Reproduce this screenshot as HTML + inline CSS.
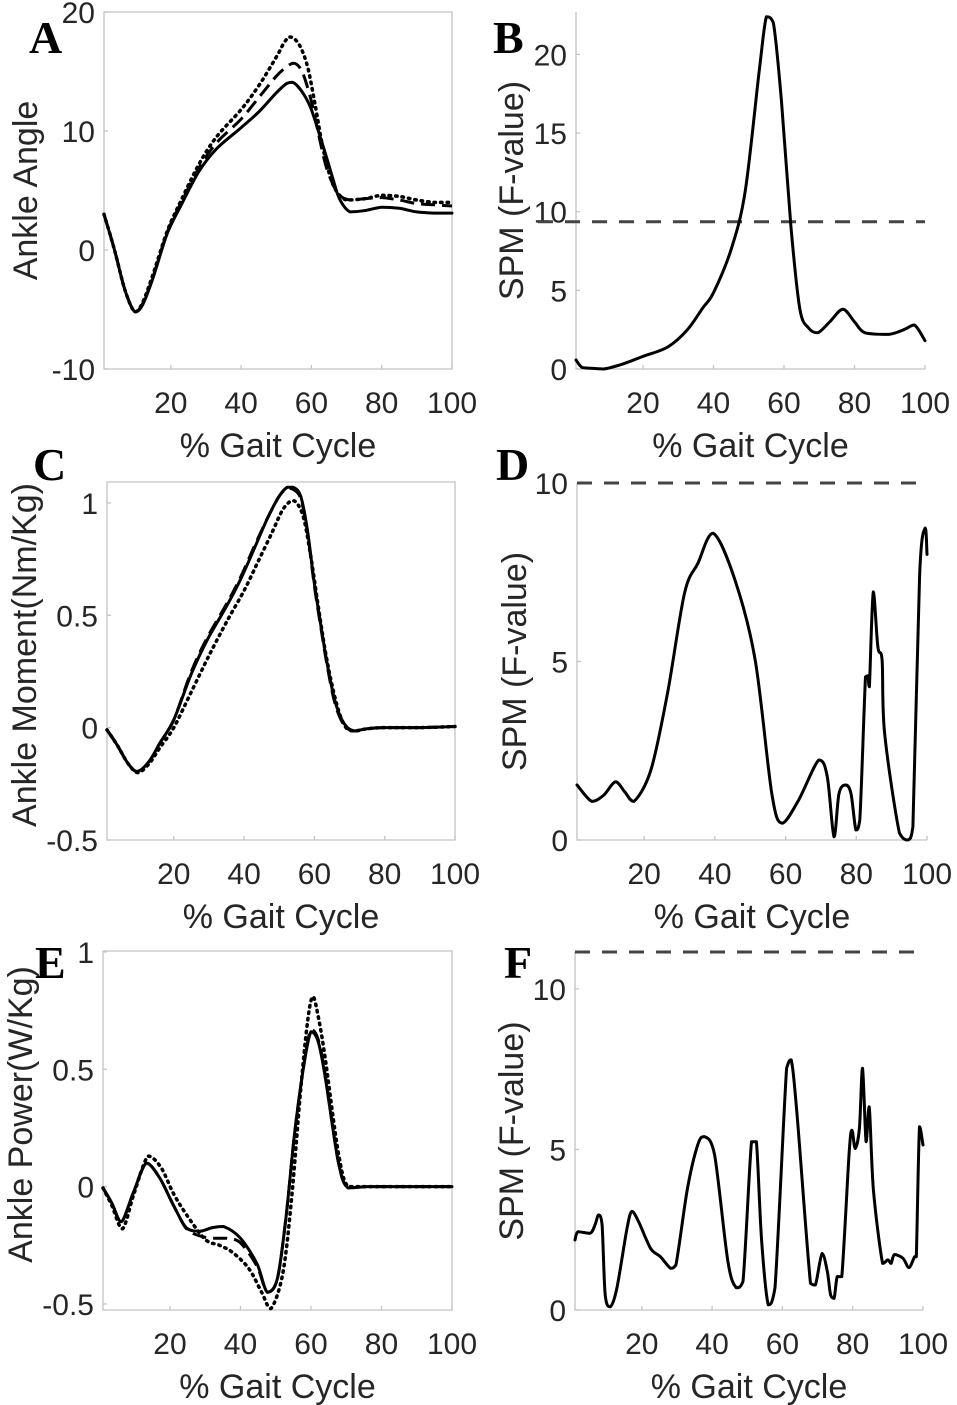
<!DOCTYPE html>
<html><head><meta charset="utf-8">
<style>
html,body{margin:0;padding:0;background:#fff;}
svg{display:block;}
.tick{font-family:"Liberation Sans",sans-serif;font-size:30px;fill:#262626;}
.title{font-family:"Liberation Sans",sans-serif;font-size:34px;fill:#262626;}
.letter{font-family:"Liberation Serif",serif;font-weight:bold;font-size:46px;fill:#000;}
</style></head>
<body>
<svg id="fig" width="957" height="1405" viewBox="0 0 957 1405" xmlns="http://www.w3.org/2000/svg"></svg>
<script>
// Panel A: ankle angle
const aSolidX=[1,4,7,9.8,12,15,19,23,28,33,39.7,45,50,53,54.5,56,58,60,62.5,64.5,66,68,71,75,80,85,90,95,100];
const aSolidY=[3,0,-3.4,-5.2,-4.6,-2.3,1.4,3.8,6.6,8.5,10.2,11.6,13.2,14,14.1,13.8,13,11.8,9.5,7.6,6.1,4.3,3.2,3.3,3.6,3.5,3.2,3.1,3.1];
const aDashX=[1,4,7,9.8,12,15,19,23,28,33,40,45,50,53,54.9,56.5,58,60,62,64,66,68,71,75,80,85,90,95,100];
const aDashY=[3,0,-3.4,-5.2,-4.5,-2.2,1.5,4,6.9,9,11,12.8,14.6,15.4,15.7,15.4,14.5,12.5,9.8,7.2,5.6,4.6,4.2,4.3,4.4,4.2,3.9,3.8,3.7];
const aDotX=[1,4,7,9.8,12,15,19,23,28,33,40,45,50,52,53.6,55,57,59,61,63,65,67,70,75,80,85,90,95,100];
const aDotY=[3,0,-3.4,-5.2,-4.4,-2,1.6,4.2,7.2,9.5,11.8,13.8,16.2,17.3,17.9,17.8,17,15.3,12.3,9,6.5,5,4.2,4.3,4.6,4.5,4.2,4,4];
// Panel B: SPM angle
const bX=[1,2.7,5,8.8,14,20,27,32.6,37,40,45,49,53,55,57,59.3,62,64.5,67,69.6,73,76.7,80,83,89.6,94,97,100];
const bY=[0.57,0.1,0.05,0,0.3,0.8,1.4,2.5,3.9,4.85,7.6,11.3,19,22.4,22,17,9,3.8,2.6,2.3,3,3.8,3,2.3,2.2,2.5,2.8,1.8];
const bThresh=9.36;
// Panel C: ankle moment
const cSolidX=[1,4,7,9.6,13,16,20,25,29.5,35,39,43,46.6,50,52.3,54,56.1,58,60,62,63.8,66,68.5,71.3,75,80,90,100];
const cSolidY=[-0.01,-0.08,-0.16,-0.195,-0.15,-0.07,0.035,0.24,0.39,0.54,0.66,0.8,0.93,1.03,1.07,1.07,1.03,0.88,0.64,0.44,0.27,0.11,0.017,-0.015,-0.005,0,0,0.005];
const cDashX=[1,4,7,9.6,13,16,20,25,29.5,35,39,43,46.6,50,52.3,54,56.1,58,60,62,63.8,66,68.5,71.3,75,80,90,100];
const cDashY=[-0.01,-0.08,-0.16,-0.195,-0.15,-0.07,0.035,0.25,0.4,0.55,0.67,0.81,0.93,1.03,1.065,1.06,1.02,0.87,0.63,0.43,0.26,0.1,0.01,-0.015,-0.005,0,0,0.005];
const cDotX=[1,4,7,9.8,13,16,20,25,30,35,40,44,48,51,53.5,55,57,59,61,63,65,67,69,71.5,75,80,90,100];
const cDotY=[-0.01,-0.08,-0.16,-0.2,-0.16,-0.09,0.0,0.16,0.32,0.47,0.61,0.74,0.87,0.97,1.01,1.0,0.93,0.76,0.55,0.35,0.19,0.07,0.0,-0.015,-0.005,0,0,0.005];
// Panel D: SPM moment
const dX=[1,5.2,8.5,11.9,14.5,17.1,21.9,26.6,31.4,35.2,39.5,45.7,51.4,56.1,59,63.7,69.4,71.8,73.7,75.1,77,78.5,79.9,81,82.6,83.3,83.7,84.8,86.1,87.3,88,92.2,94.6,96,97.9,99.5,100];
const dY=[1.54,1.08,1.25,1.63,1.35,1.08,1.96,4.11,6.91,7.75,8.59,7.28,5.04,1.3,0.47,1.12,2.24,1.77,0.09,1.3,1.54,1.3,0.28,0.56,4.57,4.6,4.29,6.95,5.41,5.04,3.0,0.2,0,0.37,7.4,8.74,8.0];
const dThresh=10;
// Panel E: ankle power
const eSolidX=[1,3.5,6.2,9.5,13.3,17.1,21,24.7,28.5,32,35.2,40,44.7,47.6,50.5,53,55.3,58,60,62,63.9,67.7,70.5,76.2,85,100];
const eSolidY=[-0.006,-0.07,-0.15,-0.03,0.1,0.036,-0.08,-0.177,-0.19,-0.175,-0.17,-0.22,-0.33,-0.45,-0.39,-0.12,0.22,0.52,0.66,0.62,0.48,0.11,-0.006,0,0,0];
const eDashX=[1,3.5,6.2,9.5,13.3,17.1,21,24.7,28.5,32,36,40,44.7,47.6,50.5,53,55.3,58,60,62,63.9,67.7,70.5,76.2,85,100];
const eDashY=[-0.006,-0.07,-0.15,-0.03,0.1,0.036,-0.08,-0.18,-0.21,-0.22,-0.22,-0.24,-0.34,-0.45,-0.39,-0.12,0.22,0.52,0.67,0.63,0.49,0.11,-0.006,0,0,0];
const eDotX=[1,3.5,6.5,9.8,13.8,17.5,21,24.7,30,34,37.7,42.4,46,48.6,52,54.5,57,59,60.5,62,64,67.7,70.5,76.2,85,100];
const eDotY=[-0.006,-0.08,-0.18,-0.03,0.13,0.08,-0.03,-0.12,-0.225,-0.25,-0.28,-0.35,-0.45,-0.52,-0.37,-0.05,0.4,0.7,0.81,0.73,0.55,0.15,0,0,0,0];
// Panel F: SPM power
const fX=[1,1.9,5.3,6.7,7.7,8.7,9.6,11,12.9,15.8,17.2,19.1,22.5,25.3,28.2,29.7,33,35.9,37.8,40.7,44.5,46.9,48.8,51.2,52.6,54.1,56,57.9,61.2,62.5,64.1,68,69.4,71.3,72.8,73.7,74.7,75.6,76.9,79,79.8,80.7,81.9,82.8,83.8,84.7,85.9,88.5,90,90.9,91.9,94.3,96,97.6,98.1,99,100];
const fY=[2.18,2.44,2.39,2.65,2.96,2.65,0.47,0.1,0.67,2.54,3.07,2.75,1.92,1.66,1.3,1.4,3.79,5.14,5.4,4.83,1.51,0.69,0.89,5.24,5.24,2.13,0.16,0.69,7.53,7.79,6.18,0.83,0.78,1.76,1.19,0.47,0.36,1.04,1.04,4.93,5.6,5.03,5.66,7.53,5.24,6.33,3.74,1.45,1.56,1.45,1.73,1.61,1.32,1.66,1.66,5.71,5.14];
const fThresh=11.15;

const xTicks=[20,40,60,80,100];
const aYTicks=[-10,0,10,20];
const bYTicks=[0,5,10,15,20];
const cYTicks=[-0.5,0,0.5,1];
const dYTicks=[0,5,10];
const eYTicks=[-0.5,0,0.5,1];
const fYTicks=[0,5,10];

const NS="http://www.w3.org/2000/svg";
const fig=document.getElementById('fig');
function mk(tag,attrs,parent){const e=document.createElementNS(NS,tag);for(const k in attrs)e.setAttribute(k,attrs[k]);(parent||fig).appendChild(e);return e;}

function smoothPath(xs,ys,sx,sy){
  const p=xs.map((x,i)=>[sx(x),sy(ys[i])]);
  let d="M"+p[0][0].toFixed(1)+","+p[0][1].toFixed(1);
  const cl=(v,a,b)=>Math.max(Math.min(a,b),Math.min(Math.max(a,b),v));
  for(let i=0;i<p.length-1;i++){
    const p0=p[Math.max(0,i-1)],p1=p[i],p2=p[i+1],p3=p[Math.min(p.length-1,i+2)];
    const t=0.16;
    const c1=[p1[0]+(p2[0]-p0[0])*t,cl(p1[1]+(p2[1]-p0[1])*t,p1[1],p2[1])];
    const c2=[p2[0]-(p3[0]-p1[0])*t,cl(p2[1]-(p3[1]-p1[1])*t,p1[1],p2[1])];
    d+=" C"+c1[0].toFixed(1)+","+c1[1].toFixed(1)+" "+c2[0].toFixed(1)+","+c2[1].toFixed(1)+" "+p2[0].toFixed(1)+","+p2[1].toFixed(1);
  }
  return d;
}

function panel(cfg){
  const g=mk('g',{});
  
  
  const sx=v=>cfg.L+(v-1)/99*(cfg.R-cfg.L);
  const sy=v=>cfg.B-(v-cfg.ymin)/(cfg.ymax-cfg.ymin)*(cfg.B-cfg.T);
  const ax=mk('path',{d:cfg.box?`M${cfg.L},${cfg.T}H${cfg.R}V${cfg.B}H${cfg.L}Z`:`M${cfg.L},${cfg.T}V${cfg.B}H${cfg.R}`,fill:'none',stroke:'#c4c4c4','stroke-width':1.3},g);
  
  
  xTicks.forEach(t=>{
    const x=sx(t);
    const tm=mk('line',{x1:x,x2:x,y1:cfg.B,y2:cfg.B-4,stroke:'#c4c4c4','stroke-width':1.3},g);
    
    
    const tl=mk('text',{x:x,y:cfg.B+44,'text-anchor':'middle',class:'tick'},g);
    tl.textContent=t;
    
    
  });
  cfg.yt.forEach(t=>{
    const y=sy(t);
    const tm=mk('line',{x1:cfg.L,x2:cfg.L+4,y1:y,y2:y,stroke:'#c4c4c4','stroke-width':1.3},g);
    
    
    const tl=mk('text',{x:cfg.L-9,y:y+11,'text-anchor':'end',class:'tick'},g);
    tl.textContent=t;
    
    
  });
  const xt=mk('text',{x:(cfg.L+cfg.R)/2,y:cfg.B+88,'text-anchor':'middle',class:'title'},g);
  xt.textContent='% Gait Cycle';
  
  
  const yc=(cfg.T+cfg.B)/2+cfg.ytOff;
  const yt=mk('text',{x:0,y:0,'text-anchor':'middle',class:'title',transform:`translate(${cfg.ytx},${yc}) rotate(-90)`},g);
  yt.textContent=cfg.ytitle;
  
  
  const lt=mk('text',{x:cfg.lx,y:cfg.ly,class:'letter'},g);
  lt.textContent=cfg.letter;
  
  
  if(cfg.thresh!==undefined){
    const y=sy(cfg.thresh);
    const th=mk('line',{x1:cfg.thX,x2:cfg.R,y1:y,y2:y,stroke:'#444','stroke-width':3,'stroke-dasharray':'15 12'},g);
    
    
  }
  cfg.series.forEach(s=>{
    const a={d:smoothPath(s.x,s.y,sx,sy),fill:'none',stroke:'#000','stroke-width':s.w||3,'stroke-linejoin':'round','stroke-linecap':s.cap||'round'};
    if(s.dash)a['stroke-dasharray']=s.dash;
    const p=mk('path',a,g);
    
    
  });
}

panel({name:'panel-a-ankle-angle',letter:'A',lx:29,ly:53,L:104,R:452,T:12,B:369,ymin:-10,ymax:20,yt:aYTicks,box:true,ytitle:'Ankle Angle',ytx:37,ytOff:0,
  series:[{name:'dotted-series',x:aDotX,y:aDotY,dash:'1.5 5',w:3.5},{name:'dashed-series',x:aDashX,y:aDashY,dash:'14 7',cap:'butt'},{name:'solid-series',x:aSolidX,y:aSolidY}]});
panel({name:'panel-b-spm-angle',letter:'B',lx:493,ly:53,L:576,R:925,T:12,B:369,ymin:0,ymax:22.7,yt:bYTicks,box:false,ytitle:'SPM (F-value)',ytx:523,ytOff:0,thresh:bThresh,thX:538,
  series:[{name:'spm-curve',x:bX,y:bY}]});
panel({name:'panel-c-ankle-moment',letter:'C',lx:33,ly:480,L:107,R:455,T:482,B:840,ymin:-0.5,ymax:1.093,yt:cYTicks,box:true,ytitle:'Ankle Moment(Nm/Kg)',ytx:36,ytOff:-6,
  series:[{name:'dotted-series',x:cDotX,y:cDotY,dash:'1.5 5',w:3.5},{name:'dashed-series',x:cDashX,y:cDashY,dash:'14 7',cap:'butt'},{name:'solid-series',x:cSolidX,y:cSolidY}]});
panel({name:'panel-d-spm-moment',letter:'D',lx:496,ly:480,L:577,R:927,T:483,B:840,ymin:0,ymax:10,yt:dYTicks,box:false,ytitle:'SPM (F-value)',ytx:526,ytOff:0,thresh:dThresh,thX:577,
  series:[{name:'spm-curve',x:dX,y:dY}]});
panel({name:'panel-e-ankle-power',letter:'E',lx:35,ly:978,L:103,R:452,T:951,B:1310,ymin:-0.526,ymax:1.004,yt:eYTicks,box:true,ytitle:'Ankle Power(W/Kg)',ytx:32,ytOff:-16,
  series:[{name:'dotted-series',x:eDotX,y:eDotY,dash:'1.5 5',w:3.5},{name:'dashed-series',x:eDashX,y:eDashY,dash:'14 7',cap:'butt'},{name:'solid-series',x:eSolidX,y:eSolidY}]});
panel({name:'panel-f-spm-power',letter:'F',lx:504,ly:978,L:575,R:923,T:952,B:1310,ymin:0,ymax:11.15,yt:fYTicks,box:false,ytitle:'SPM (F-value)',ytx:523,ytOff:0,thresh:fThresh,thX:575,
  series:[{name:'spm-curve',x:fX,y:fY}]});
</script>
</body></html>
